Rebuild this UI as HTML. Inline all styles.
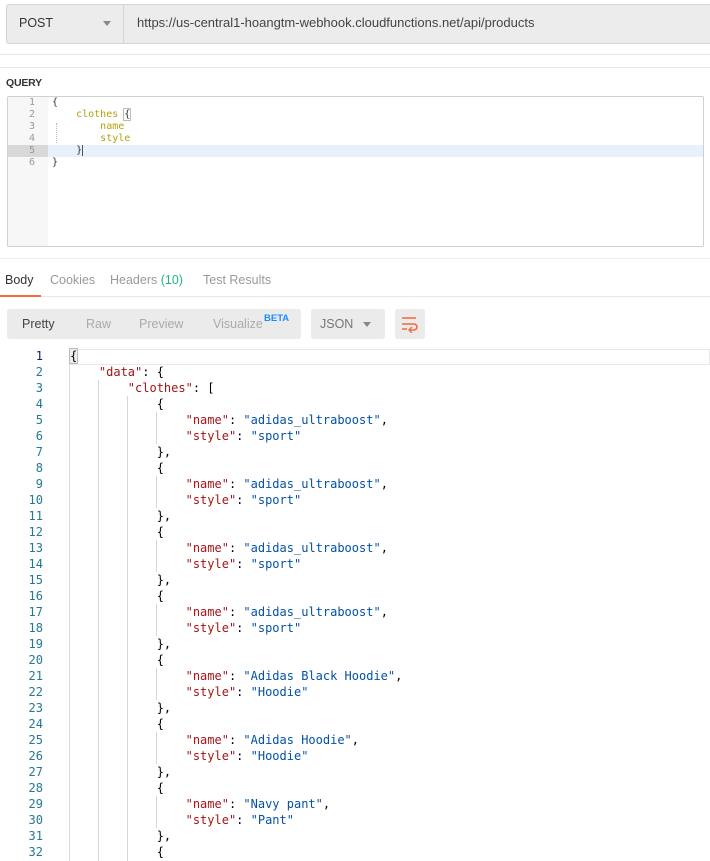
<!DOCTYPE html>
<html><head><meta charset="utf-8"><style>
*{margin:0;padding:0;box-sizing:border-box}
body{width:710px;height:861px;overflow:hidden;background:#fff;font-family:"Liberation Sans",sans-serif;position:relative}
.a{position:absolute}
.mono{font-family:"DejaVu Sans Mono","Liberation Mono",monospace}
.q{font-size:10px;line-height:12px;white-space:pre}
.r{font-size:12px;line-height:16px;white-space:pre;color:#000}
.k{color:#a31515}.v{color:#0451a5}
.ln{color:#237893;width:43px;text-align:right}
.y{color:#b5a00b}
</style></head><body>
<div class="a" style="left:6px;top:4px;width:704px;height:40px;background:#ececec;border:1px solid #d4d4d4;border-right:none;border-radius:3px 0 0 3px"></div>
<div class="a" style="left:123px;top:5px;width:1px;height:38px;background:#d4d4d4"></div>
<div class="a" style="left:19px;top:16px;font-size:12.5px;color:#333">POST</div>
<div class="a" style="left:103px;top:21px;width:0;height:0;border-left:4px solid transparent;border-right:4px solid transparent;border-top:5px solid #888"></div>
<div class="a" style="left:137px;top:15px;font-size:13px;color:#444">https://us-central1-hoangtm-webhook.cloudfunctions.net/api/products</div>
<div class="a" style="left:0;top:54px;width:710px;height:1px;background:#e6e6e6"></div>
<div class="a" style="left:0;top:67px;width:710px;height:1px;background:#e6e6e6"></div>
<div class="a" style="left:6px;top:77px;font-size:10.5px;color:#333;font-weight:bold;letter-spacing:-0.2px">QUERY</div>
<div class="a" style="left:7px;top:96px;width:697px;height:151px;border:1px solid #d0d0d0;border-radius:2px;overflow:hidden">
 <div class="a" style="left:0;top:0;width:40px;height:151px;background:#f7f7f7"></div>
 <div class="a" style="left:0;top:48px;width:40px;height:12px;background:#d8d8d8"></div>
 <div class="a" style="left:40px;top:48px;width:660px;height:12px;background:#e8f1fb"></div>
 <div class="a" style="left:48px;top:26px;width:0;height:20px;border-left:1px dotted #bbb"></div>
</div>
<div class="a mono q" style="left:7px;top:97px;width:28px;text-align:right;color:#999">1
2
3
4
5
6</div>
<div class="a mono q" style="left:52px;top:97px;color:#333">{
    <span class="y">clothes</span> <span style="outline:1px solid #bbb">{</span>
        <span class="y">name</span>
        <span class="y">style</span>
    }<span style="border-left:1px solid #555"></span>
}</div>
<div class="a" style="left:0;top:258px;width:710px;height:1px;background:#eee"></div>
<div class="a" style="left:0;top:296px;width:710px;height:1px;background:#e8e8e8"></div>
<div class="a" style="left:5px;top:273px;font-size:12.5px;color:#333">Body</div>
<div class="a" style="left:0;top:295px;width:41px;height:2px;background:#f26b3a"></div>
<div class="a" style="left:50px;top:273px;font-size:12.5px;color:#999">Cookies</div>
<div class="a" style="left:110px;top:273px;font-size:12.5px;color:#999">Headers <span style="color:#26b47f">(10)</span></div>
<div class="a" style="left:203px;top:273px;font-size:12.5px;color:#999">Test Results</div>
<div class="a" style="left:7px;top:309px;width:294px;height:30px;background:#ebebeb;border-radius:3px"></div>
<div class="a" style="left:22px;top:317px;font-size:12.5px;color:#444">Pretty</div>
<div class="a" style="left:86px;top:317px;font-size:12.5px;color:#aaa">Raw</div>
<div class="a" style="left:139px;top:317px;font-size:12.5px;color:#aaa">Preview</div>
<div class="a" style="left:213px;top:317px;font-size:12.5px;color:#aaa">Visualize</div>
<div class="a" style="left:264px;top:313px;font-size:9.5px;color:#1a8cff;font-weight:bold">BETA</div>
<div class="a" style="left:311px;top:309px;width:74px;height:30px;background:#ebebeb;border-radius:3px"></div>
<div class="a" style="left:320px;top:317px;font-size:12.5px;color:#777">JSON</div>
<div class="a" style="left:363px;top:322px;border-left:4px solid transparent;border-right:4px solid transparent;border-top:5px solid #888"></div>
<div class="a" style="left:395px;top:309px;width:30px;height:30px;background:#ebebeb;border-radius:3px"></div>
<svg class="a" style="left:401px;top:315px" width="18" height="18"><path d="M1 3h14M1 9h12a3 3 0 0 1 0 6h-4M1 14h5" stroke="#f26b3a" stroke-width="1.6" fill="none"/><path d="M11 12l-3 3 3 3" stroke="#f26b3a" stroke-width="1.4" fill="none"/></svg>
<div class="a" style="left:69px;top:349px;width:641px;height:16px;border:1px solid #e8e8e8;border-left:none;background:#fff"></div>
<div class="a" style="left:69px;top:349px;width:1px;height:512px;background:#dcdcdc"></div>
<div class="a" style="left:98px;top:380px;width:1px;height:481px;background:#d6d6d6"></div>
<div class="a" style="left:127px;top:396px;width:1px;height:465px;background:#d6d6d6"></div>
<div class="a" style="left:156px;top:412px;width:1px;height:32px;background:#d6d6d6"></div>
<div class="a" style="left:156px;top:476px;width:1px;height:32px;background:#d6d6d6"></div>
<div class="a" style="left:156px;top:540px;width:1px;height:32px;background:#d6d6d6"></div>
<div class="a" style="left:156px;top:604px;width:1px;height:32px;background:#d6d6d6"></div>
<div class="a" style="left:156px;top:668px;width:1px;height:32px;background:#d6d6d6"></div>
<div class="a" style="left:156px;top:732px;width:1px;height:32px;background:#d6d6d6"></div>
<div class="a" style="left:156px;top:796px;width:1px;height:32px;background:#d6d6d6"></div>
<div class="a mono r ln" style="left:0;top:348px"><span style="color:#0b216f">1</span>
2
3
4
5
6
7
8
9
10
11
12
13
14
15
16
17
18
19
20
21
22
23
24
25
26
27
28
29
30
31
32</div>
<div class="a mono r" style="left:70px;top:348px"><span style="outline:1px solid #bbb;background:#eee">{</span>
    <span class="k">"data"</span>: {
        <span class="k">"clothes"</span>: [
            {
                <span class="k">"name"</span>: <span class="v">"adidas_ultraboost"</span>,
                <span class="k">"style"</span>: <span class="v">"sport"</span>
            },
            {
                <span class="k">"name"</span>: <span class="v">"adidas_ultraboost"</span>,
                <span class="k">"style"</span>: <span class="v">"sport"</span>
            },
            {
                <span class="k">"name"</span>: <span class="v">"adidas_ultraboost"</span>,
                <span class="k">"style"</span>: <span class="v">"sport"</span>
            },
            {
                <span class="k">"name"</span>: <span class="v">"adidas_ultraboost"</span>,
                <span class="k">"style"</span>: <span class="v">"sport"</span>
            },
            {
                <span class="k">"name"</span>: <span class="v">"Adidas Black Hoodie"</span>,
                <span class="k">"style"</span>: <span class="v">"Hoodie"</span>
            },
            {
                <span class="k">"name"</span>: <span class="v">"Adidas Hoodie"</span>,
                <span class="k">"style"</span>: <span class="v">"Hoodie"</span>
            },
            {
                <span class="k">"name"</span>: <span class="v">"Navy pant"</span>,
                <span class="k">"style"</span>: <span class="v">"Pant"</span>
            },
            {</div>
</body></html>
